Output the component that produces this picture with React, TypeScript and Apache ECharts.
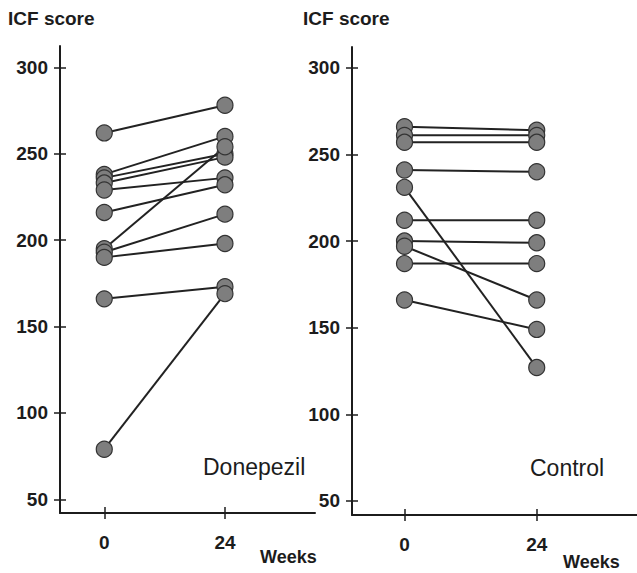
import React, { useEffect, useRef } from "react";
import * as echarts from "echarts";

const weeks = [0, 24];
const weekTicks = [0, 24];
const yTicks = [50, 100, 150, 200, 250, 300];

const donepezilWeek0 = [262, 238, 236, 233, 229, 216, 195, 193, 190, 166, 79];
const donepezilWeek24 = [278, 260, 250, 248, 236, 232, 254, 215, 198, 173, 169];

const controlWeek0 = [266, 261, 257, 241, 231, 212, 200, 197, 187, 166];
const controlWeek24 = [264, 261, 257, 240, 127, 212, 199, 166, 187, 149];

const FONT = "'Liberation Sans', Arial, sans-serif";
const INK = "#1c1c1c";

function yAxesFor(gridIndex: number, min: number, max: number) {
  return [
    {
      type: "value",
      gridIndex,
      min,
      max,
      position: "left",
      splitLine: { show: false },
      axisLine: { show: true, onZero: false, lineStyle: { color: INK, width: 2 } },
      axisTick: { show: true, inside: false, length: 6, lineStyle: { color: INK, width: 1.5 }, customValues: yTicks },
      axisLabel: { show: true, margin: 12, color: INK, fontSize: 19, fontWeight: "bold", fontFamily: FONT, customValues: yTicks },
    },
    {
      type: "value",
      gridIndex,
      min,
      max,
      position: "left",
      splitLine: { show: false },
      axisLine: { show: false, onZero: false },
      axisTick: { show: true, inside: true, length: 6, lineStyle: { color: INK, width: 1.5 }, customValues: yTicks },
      axisLabel: { show: false },
    },
  ];
}

function xAxesFor(gridIndex: number, min: number, max: number) {
  return [
    {
      type: "value",
      gridIndex,
      min,
      max,
      position: "bottom",
      splitLine: { show: false },
      axisLine: { show: true, onZero: false, lineStyle: { color: INK, width: 2 } },
      axisTick: { show: true, inside: false, length: 6, lineStyle: { color: INK, width: 1.5 }, customValues: weekTicks },
      axisLabel: { show: true, margin: 20, color: INK, fontSize: 19, fontWeight: "bold", fontFamily: FONT, customValues: weekTicks },
    },
    {
      type: "value",
      gridIndex,
      min,
      max,
      position: "bottom",
      splitLine: { show: false },
      axisLine: { show: false, onZero: false },
      axisTick: { show: true, inside: true, length: 6, lineStyle: { color: INK, width: 1.5 }, customValues: weekTicks },
      axisLabel: { show: false },
    },
  ];
}

function pairSeries(w0: number[], w24: number[], xAxisIndex: number, yAxisIndex: number) {
  const lines = w0.map((v, i) => ({
    type: "line",
    xAxisIndex,
    yAxisIndex,
    data: [
      [weeks[0], v],
      [weeks[1], w24[i]],
    ],
    showSymbol: false,
    symbol: "none",
    lineStyle: { color: "#222", width: 2 },
    z: 2,
    silent: true,
  }));
  const pts: number[][] = [];
  w0.forEach((v) => pts.push([weeks[0], v]));
  w24.forEach((v) => pts.push([weeks[1], v]));
  const scatter = {
    type: "scatter",
    xAxisIndex,
    yAxisIndex,
    data: pts,
    symbol: "circle",
    symbolSize: 16,
    itemStyle: { color: "#7e7e7e", borderColor: "#333", borderWidth: 1.2, opacity: 1 },
    z: 3,
    silent: true,
  };
  return [...lines, scatter];
}

export default function App() {
  const ref = useRef<HTMLDivElement>(null);
  useEffect(() => {
    if (!ref.current) return;
    const chart = echarts.init(ref.current, undefined, { renderer: "svg" });
    const text = (t: string, x: number, y: number, size: number, weight: string = "normal") => ({
      type: "text",
      x,
      y,
      style: {
        text: t,
        fill: INK,
        font: `${weight} ${size}px ${FONT}`,
        verticalAlign: "middle",
        textVerticalAlign: "middle",
      },
    });
    chart.setOption({
      animation: false,
      backgroundColor: "#ffffff",
      grid: [
        { left: 60, top: 46, width: 255, height: 467 },
        { left: 352, top: 47, width: 285, height: 468 },
      ],
      xAxis: [...xAxesFor(0, -8.8, 41.9), ...xAxesFor(1, -9.53, 42.2)],
      yAxis: [...yAxesFor(0, 42.1, 312.3), ...yAxesFor(1, 41.9, 312)],
      series: [
        ...pairSeries(donepezilWeek0, donepezilWeek24, 0, 0),
        ...pairSeries(controlWeek0, controlWeek24, 2, 2),
      ],
      graphic: [
        text("ICF score", 8, 18, 19, "bold"),
        text("ICF score", 303, 18, 19, "bold"),
        text("Donepezil", 203, 467, 23),
        text("Control", 530, 468, 23),
        text("Weeks", 260, 557, 18, "bold"),
        text("Weeks", 563, 562, 18, "bold"),
      ],
    });
    return () => chart.dispose();
  }, []);
  return (
    <div
      ref={ref}
      style={{ position: "absolute", left: 0, top: 0, width: 637, height: 573 }}
    />
  );
}
